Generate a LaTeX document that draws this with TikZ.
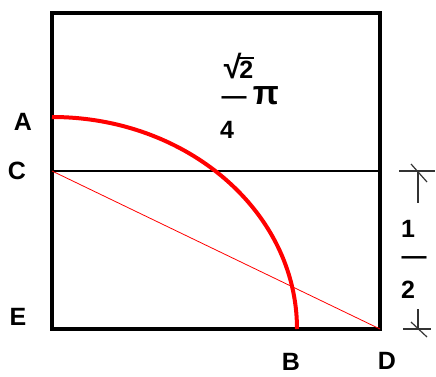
\documentclass[tikz,border=0pt]{standalone}
\usepackage{fontspec}
\setmainfont{Liberation Sans}
\usepackage{tikz}
\usetikzlibrary{calc}
\tikzstyle{lbl} = [font=\bfseries\fontsize{25}{25}\selectfont, inner sep=0pt]
\tikzstyle{dim} = [line width=1.2pt, black!80]

\begin{document}
\begin{tikzpicture}[x=1pt,y=1pt]
\useasboundingbox (-52,-47) rectangle (384,329);

\coordinate (E) at (0,0);
\coordinate (C) at (0,158);
\coordinate (A) at (0,212);
\coordinate (B) at (245,0);
\coordinate (D) at (328,0);
\coordinate (F) at (328,316);
\coordinate (G) at (328,158);

% square and lines
\draw[line width=4pt] (E) rectangle (F);
\draw[line width=1.2pt] (C) -- (G);
\draw[red, line width=0.8pt] (C) -- (D);
\draw[red, line width=4pt] (A) arc[start angle=90, end angle=0, x radius=245, y radius=212];

% labels
\node[lbl] (labA) at (-29,207) {A};
\node[lbl] (labC) at (-35,158) {C};
\node[lbl] (labE) at (-34,12) {E};
\node[lbl] (labB) at (239,-33) {B};
\node[lbl] (labD) at (335,-32) {D};

% area
\node[lbl] (root) at (187,263) {{\fontsize{32}{32}\selectfont √}\kern-2pt\vbox{\hrule height 2.5pt\kern2pt\hbox{2\kern1pt}}};
\node[lbl] (bar) at (182,228) {—};
\node[lbl] (pi) at (214,233) {\fontsize{34}{34}\selectfont π};
\node[lbl] (four) at (175,199) {4};

% dimension
\coordinate (dtop) at (366,158);
\coordinate (dbot) at (366,0);
\draw[dim] ($(dtop)+(-19,0)$) -- ($(dtop)+(17,0)$);
\draw[dim] (dtop) -- ++(0,-32);
\draw[dim] ($(dtop)+(-7,7)$) -- ($(dtop)+(9,-11)$);
\draw[dim] ($(dbot)+(-15,0)$) -- ($(dbot)+(13,0)$);
\draw[dim] (dbot) -- ++(0,20);
\draw[dim] ($(dbot)+(-7,7)$) -- ($(dbot)+(9,-8)$);
\node[lbl] (one) at (356,100) {1};
\node[lbl] (half) at (362,68) {—};
\node[lbl] (two) at (356,39) {2};
\end{tikzpicture}
\end{document}
